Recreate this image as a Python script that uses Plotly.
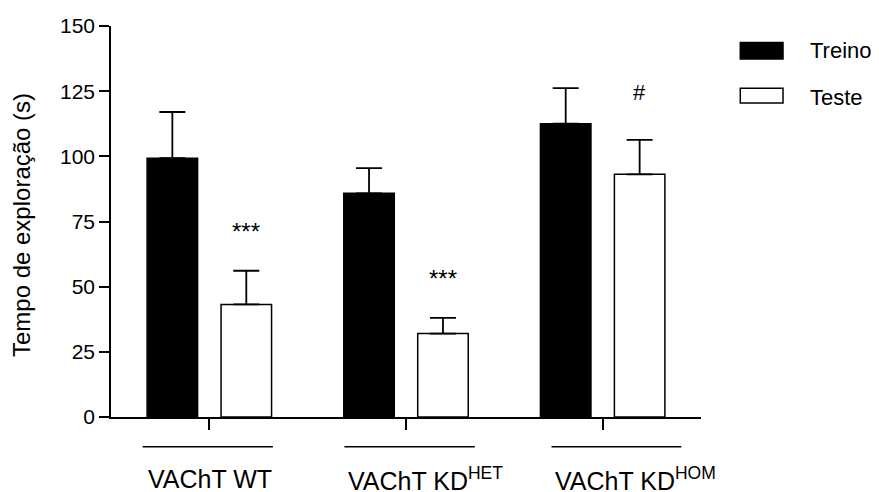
import plotly.graph_objects as go

groups = ["VAChT WT", "VAChT KD<sup>HET</sup>", "VAChT KD<sup>HOM</sup>"]
treino_mean = [99.3, 85.8, 112.5]
treino_err = [17.7, 9.7, 13.7]
teste_mean = [43.2, 32.0, 93.1]
teste_err = [12.9, 6.0, 13.2]
teste_marks = ["***", "***", "#"]
y_ticks = [0, 25, 50, 75, 100, 125, 150]

FONT = "Liberation Sans, Arial, sans-serif"
xpos = list(range(len(groups)))

fig = go.Figure()
fig.add_trace(go.Bar(
    x=xpos, y=treino_mean, name="Treino",
    marker=dict(color="black", line=dict(color="black", width=1.5)),
    error_y=dict(type="data", symmetric=False, array=treino_err,
                 arrayminus=[0] * len(treino_err), color="black",
                 thickness=1.8, width=13),
))
fig.add_trace(go.Bar(
    x=xpos, y=teste_mean, name="Teste",
    marker=dict(color="white", line=dict(color="black", width=1.5)),
    error_y=dict(type="data", symmetric=False, array=teste_err,
                 arrayminus=[0] * len(teste_err), color="black",
                 thickness=1.8, width=13),
))

# page has an 8px body margin, so the figure is 871x484 placed at (8,8)
fig.update_layout(
    width=871, height=484,
    margin=dict(l=103, r=178, t=18, b=75, autoexpand=False),
    paper_bgcolor="white", plot_bgcolor="white",
    barmode="group", bargap=0.248, bargroupgap=0.317,
    showlegend=False,
    font=dict(family=FONT, color="black", size=20),
)
fig.update_xaxes(
    range=[-0.5, 2.5], tickvals=xpos, showticklabels=False, automargin=False,
    showline=True, linecolor="black", linewidth=1.5,
    ticks="outside", ticklen=11, tickwidth=1.5, tickcolor="black",
    showgrid=False, zeroline=False,
)
fig.update_yaxes(
    range=[0, 150], tickvals=y_ticks, automargin=False,
    showline=True, linecolor="black", linewidth=1.5,
    ticks="outside", ticklen=10, tickwidth=1.5, tickcolor="black",
    tickfont=dict(size=21, family=FONT), ticklabelstandoff=0,
    showgrid=False, zeroline=False,
)

# y-axis title
fig.add_annotation(x=-0.1525, y=0.491, xref="paper", yref="paper",
                   text="Tempo de exploração (s)", textangle=-90, showarrow=False,
                   xanchor="center", yanchor="middle", font=dict(size=24, family=FONT))

# significance marks above Teste bars
for i, m in enumerate(teste_marks):
    fig.add_annotation(x=i + 0.188, y=teste_mean[i] + teste_err[i], xref="x", yref="y",
                       text=m, showarrow=False, yanchor="middle", yshift=39 if m != "#" else 47,
                       font=dict(size=24 if m != "#" else 22, family=FONT))

# group labels with lines
spans = [(-0.339, 0.323, -0.322), (0.687, 1.350, 0.697), (1.740, 2.400, 1.747)]
for (x0, x1, xt), g in zip(spans, groups):
    fig.add_shape(type="line", xref="x", yref="paper", x0=x0, x1=x1, y0=-0.076, y1=-0.076,
                  line=dict(color="black", width=1.5))
    fig.add_annotation(x=xt, y=-0.158, xref="x", yref="paper", text=g, showarrow=False,
                       xanchor="left", yanchor="middle", font=dict(size=25, family=FONT))

# legend
leg = [("Treino", "black", 0.958, 0.9156, 0.937), ("Teste", "white", 0.841, 0.803, 0.8166)]
for name, col, y1, y0, yt in leg:
    fig.add_shape(type="rect", xref="paper", yref="paper", x0=1.0666, x1=1.139, y0=y0, y1=y1,
                  fillcolor=col, line=dict(color="black", width=1.5))
    fig.add_annotation(x=1.182, y=yt, xref="paper", yref="paper", text=name, showarrow=False,
                       xanchor="left", yanchor="middle", font=dict(size=22, family=FONT))

fig.write_html("out.html")
